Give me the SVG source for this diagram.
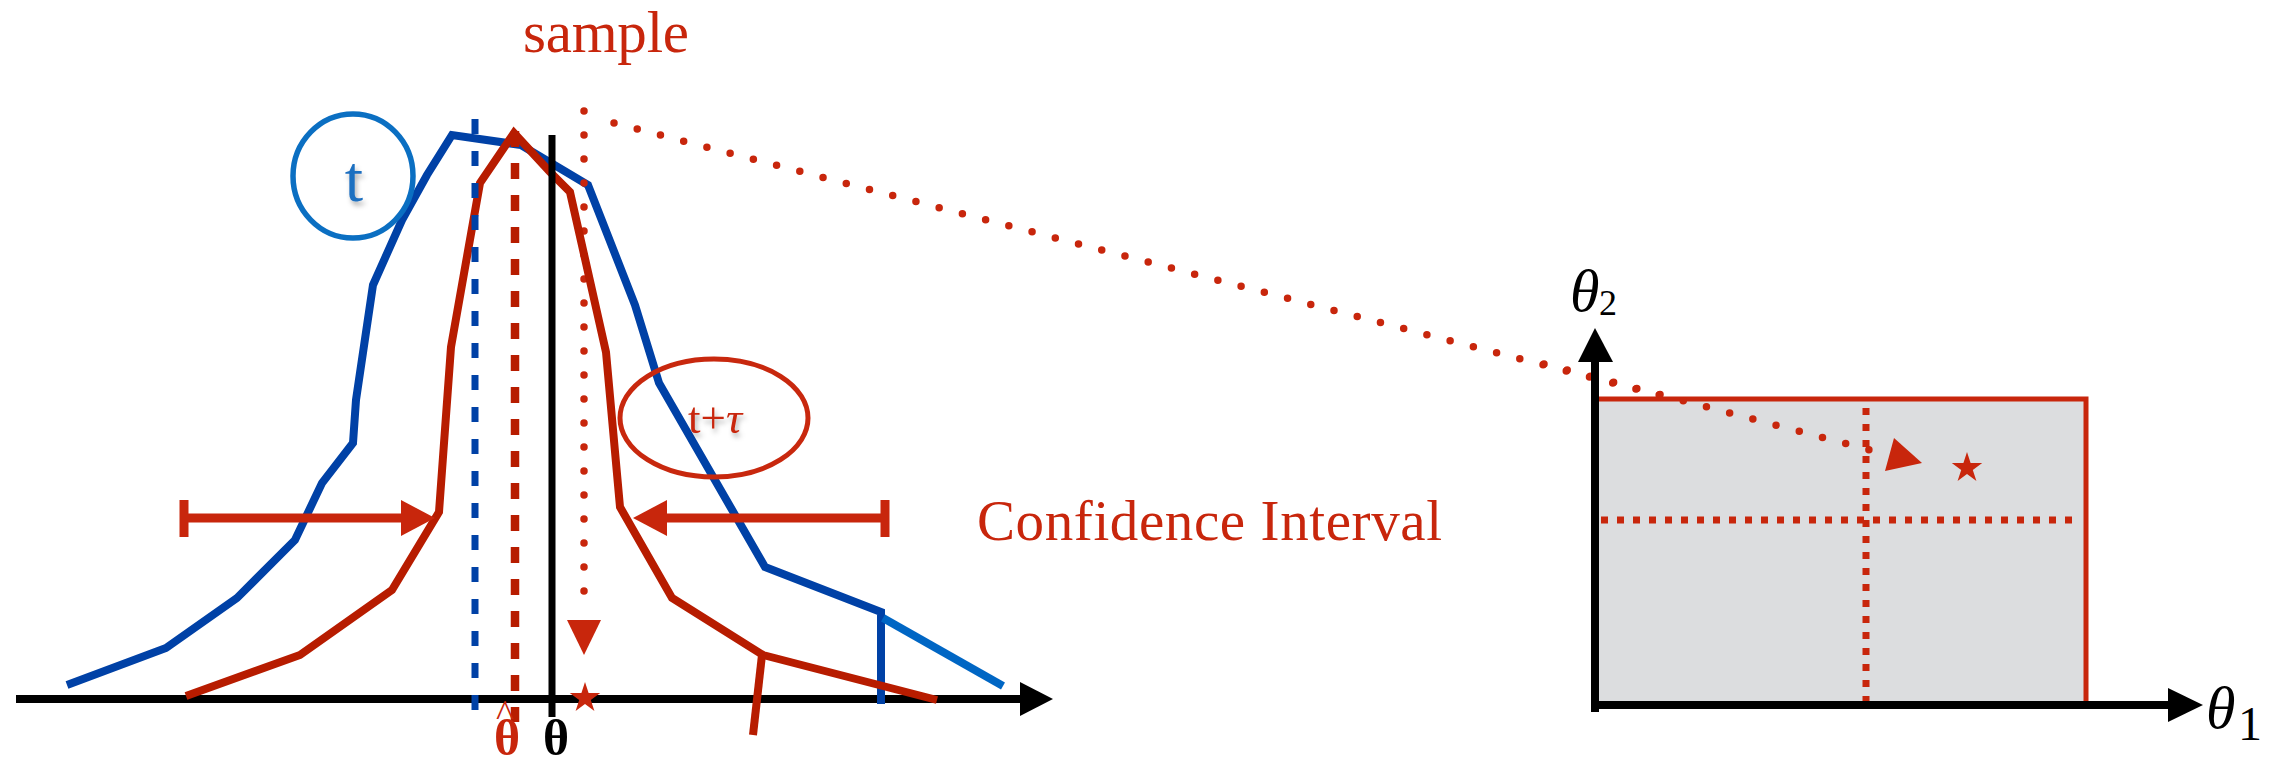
<svg xmlns="http://www.w3.org/2000/svg" width="2271" height="773" viewBox="0 0 2271 773">
<defs>
<style>
.serif{font-family:"Liberation Serif","Times New Roman",serif}
.red{fill:#C8260C}
.curve{fill:none;stroke-linejoin:miter;stroke-width:8}
.dots{fill:none;stroke:#C8260C;stroke-width:7.5;stroke-linecap:round;stroke-dasharray:0 24}
.sq{fill:none;stroke:#C8260C;stroke-width:7;stroke-dasharray:7 9}
.axis{stroke:#000;stroke-width:8;fill:none}
.ci{stroke:#C8260C;stroke-width:9;fill:none}
</style>
<filter id="sh" x="-30%" y="-30%" width="160%" height="160%">
<feDropShadow dx="2" dy="4" stdDeviation="2.5" flood-color="#000" flood-opacity="0.3"/>
</filter>
<path id="star" d="M0,-10 L2.25,-3.09 L9.51,-3.09 L3.63,1.18 L5.88,8.09 L0,3.82 L-5.88,8.09 L-3.63,1.18 L-9.51,-3.09 L-2.25,-3.09Z"/>
</defs>
<rect width="2271" height="773" fill="#fff"/>

<g id="left-axis">
<line class="axis" x1="16" y1="699" x2="1022" y2="699"/>
<polygon points="1020,682 1053,699 1020,716" fill="#000"/>
</g>

<g id="connectors">
<polyline class="curve" stroke="#0041A6" points="67,685 166,648 237,598 295,540 322,483 353,443 356,400 373,285 402,220 427,175 452,135 521,145 588,185 635,305 659,383 765,567 881,612 881,704"/>
<line x1="883" y1="618" x2="1003" y2="686" stroke="#0066C4" stroke-width="8"/>
<line class="dots" x1="584" y1="111" x2="584" y2="615"/>
<polygon points="567,620 601,620 584,655" fill="#C8260C"/>
<line class="dots" x1="614" y1="123" x2="1870" y2="450"/>
<polyline class="curve" stroke="#B71C00" points="186,696 300,655 392,590 439,512 451,347 480,183 514,133 550,172 570,192 606,352 620,507 672,598 763,655 937,700"/>
<line x1="762" y1="655" x2="753" y2="735" stroke="#B71C00" stroke-width="8"/>
<line x1="475" y1="119" x2="475" y2="710" stroke="#0041A6" stroke-width="7" stroke-dasharray="15 17"/>
<line x1="515" y1="131" x2="515" y2="722" stroke="#B71C00" stroke-width="8.5" stroke-dasharray="16 16"/>
<line x1="552" y1="135" x2="552" y2="717" stroke="#000" stroke-width="7"/>
<use href="#star" transform="translate(585,698) scale(1.6)" fill="#C8260C"/>
<line class="ci" x1="184" y1="518" x2="403" y2="518"/>
<line class="ci" x1="184" y1="500" x2="184" y2="537"/>
<polygon points="401,500 435,518 401,536" fill="#C8260C"/>
<line class="ci" x1="665" y1="518" x2="885" y2="518"/>
<line class="ci" x1="885" y1="500" x2="885" y2="537"/>
<polygon points="667,500 633,518 667,536" fill="#C8260C"/>
</g>

<g id="label-sample">
<text class="serif red" x="523" y="52" font-size="59" textLength="166">sample</text>
</g>

<g id="node-t">
<ellipse cx="353" cy="176" rx="60" ry="62" fill="none" stroke="#0B6FC2" stroke-width="5.5"/>
<text class="serif" x="354" y="201" font-size="66" text-anchor="middle" fill="#1F6FC0" filter="url(#sh)">t</text>
</g>

<g id="node-ttau">
<ellipse cx="714" cy="418" rx="94" ry="59" fill="none" stroke="#C8280E" stroke-width="5"/>
<text class="serif red" x="688" y="433" font-size="45" filter="url(#sh)">t+<tspan font-style="italic">τ</tspan></text>
</g>

<g id="label-ci">
<text class="serif red" x="977" y="540" font-size="57" textLength="465">Confidence Interval</text>
</g>

<g id="label-theta">
<text class="serif red" x="505" y="726" font-size="38" text-anchor="middle">^</text>
<text class="serif red" x="507" y="755" font-size="50" font-weight="bold" text-anchor="middle">θ</text>
<text class="serif" x="556" y="755" font-size="50" font-weight="bold" text-anchor="middle" fill="#000">θ</text>
</g>

<g id="param-space">
<rect x="1595" y="399" width="491" height="306" fill="#DCDDDF" stroke="#C8260C" stroke-width="5"/>
<line class="sq" x1="1866" y1="408" x2="1866" y2="702"/>
<line class="sq" x1="1601" y1="520" x2="2072" y2="520"/>
<line class="dots" x1="1544" y1="364" x2="1870" y2="450"/>
<polygon points="1894,438 1922,463 1885,471" fill="#C8260C"/>
<use href="#star" transform="translate(1967,468) scale(1.6)" fill="#C8260C"/>
<line class="axis" x1="1595" y1="712" x2="1595" y2="360"/>
<polygon points="1578,362 1613,362 1595,328" fill="#000"/>
<line class="axis" x1="1591" y1="705" x2="2170" y2="705"/>
<polygon points="2168,688 2168,722 2203,705" fill="#000"/>
<text class="serif" x="1570" y="311" font-size="60" font-style="italic" fill="#000">θ</text>
<text class="serif" x="1599" y="315" font-size="36" fill="#000">2</text>
<text class="serif" x="2206" y="728" font-size="60" font-style="italic" fill="#000">θ</text>
<text class="serif" x="2238" y="740" font-size="48" fill="#000">1</text>
</g>
</svg>
